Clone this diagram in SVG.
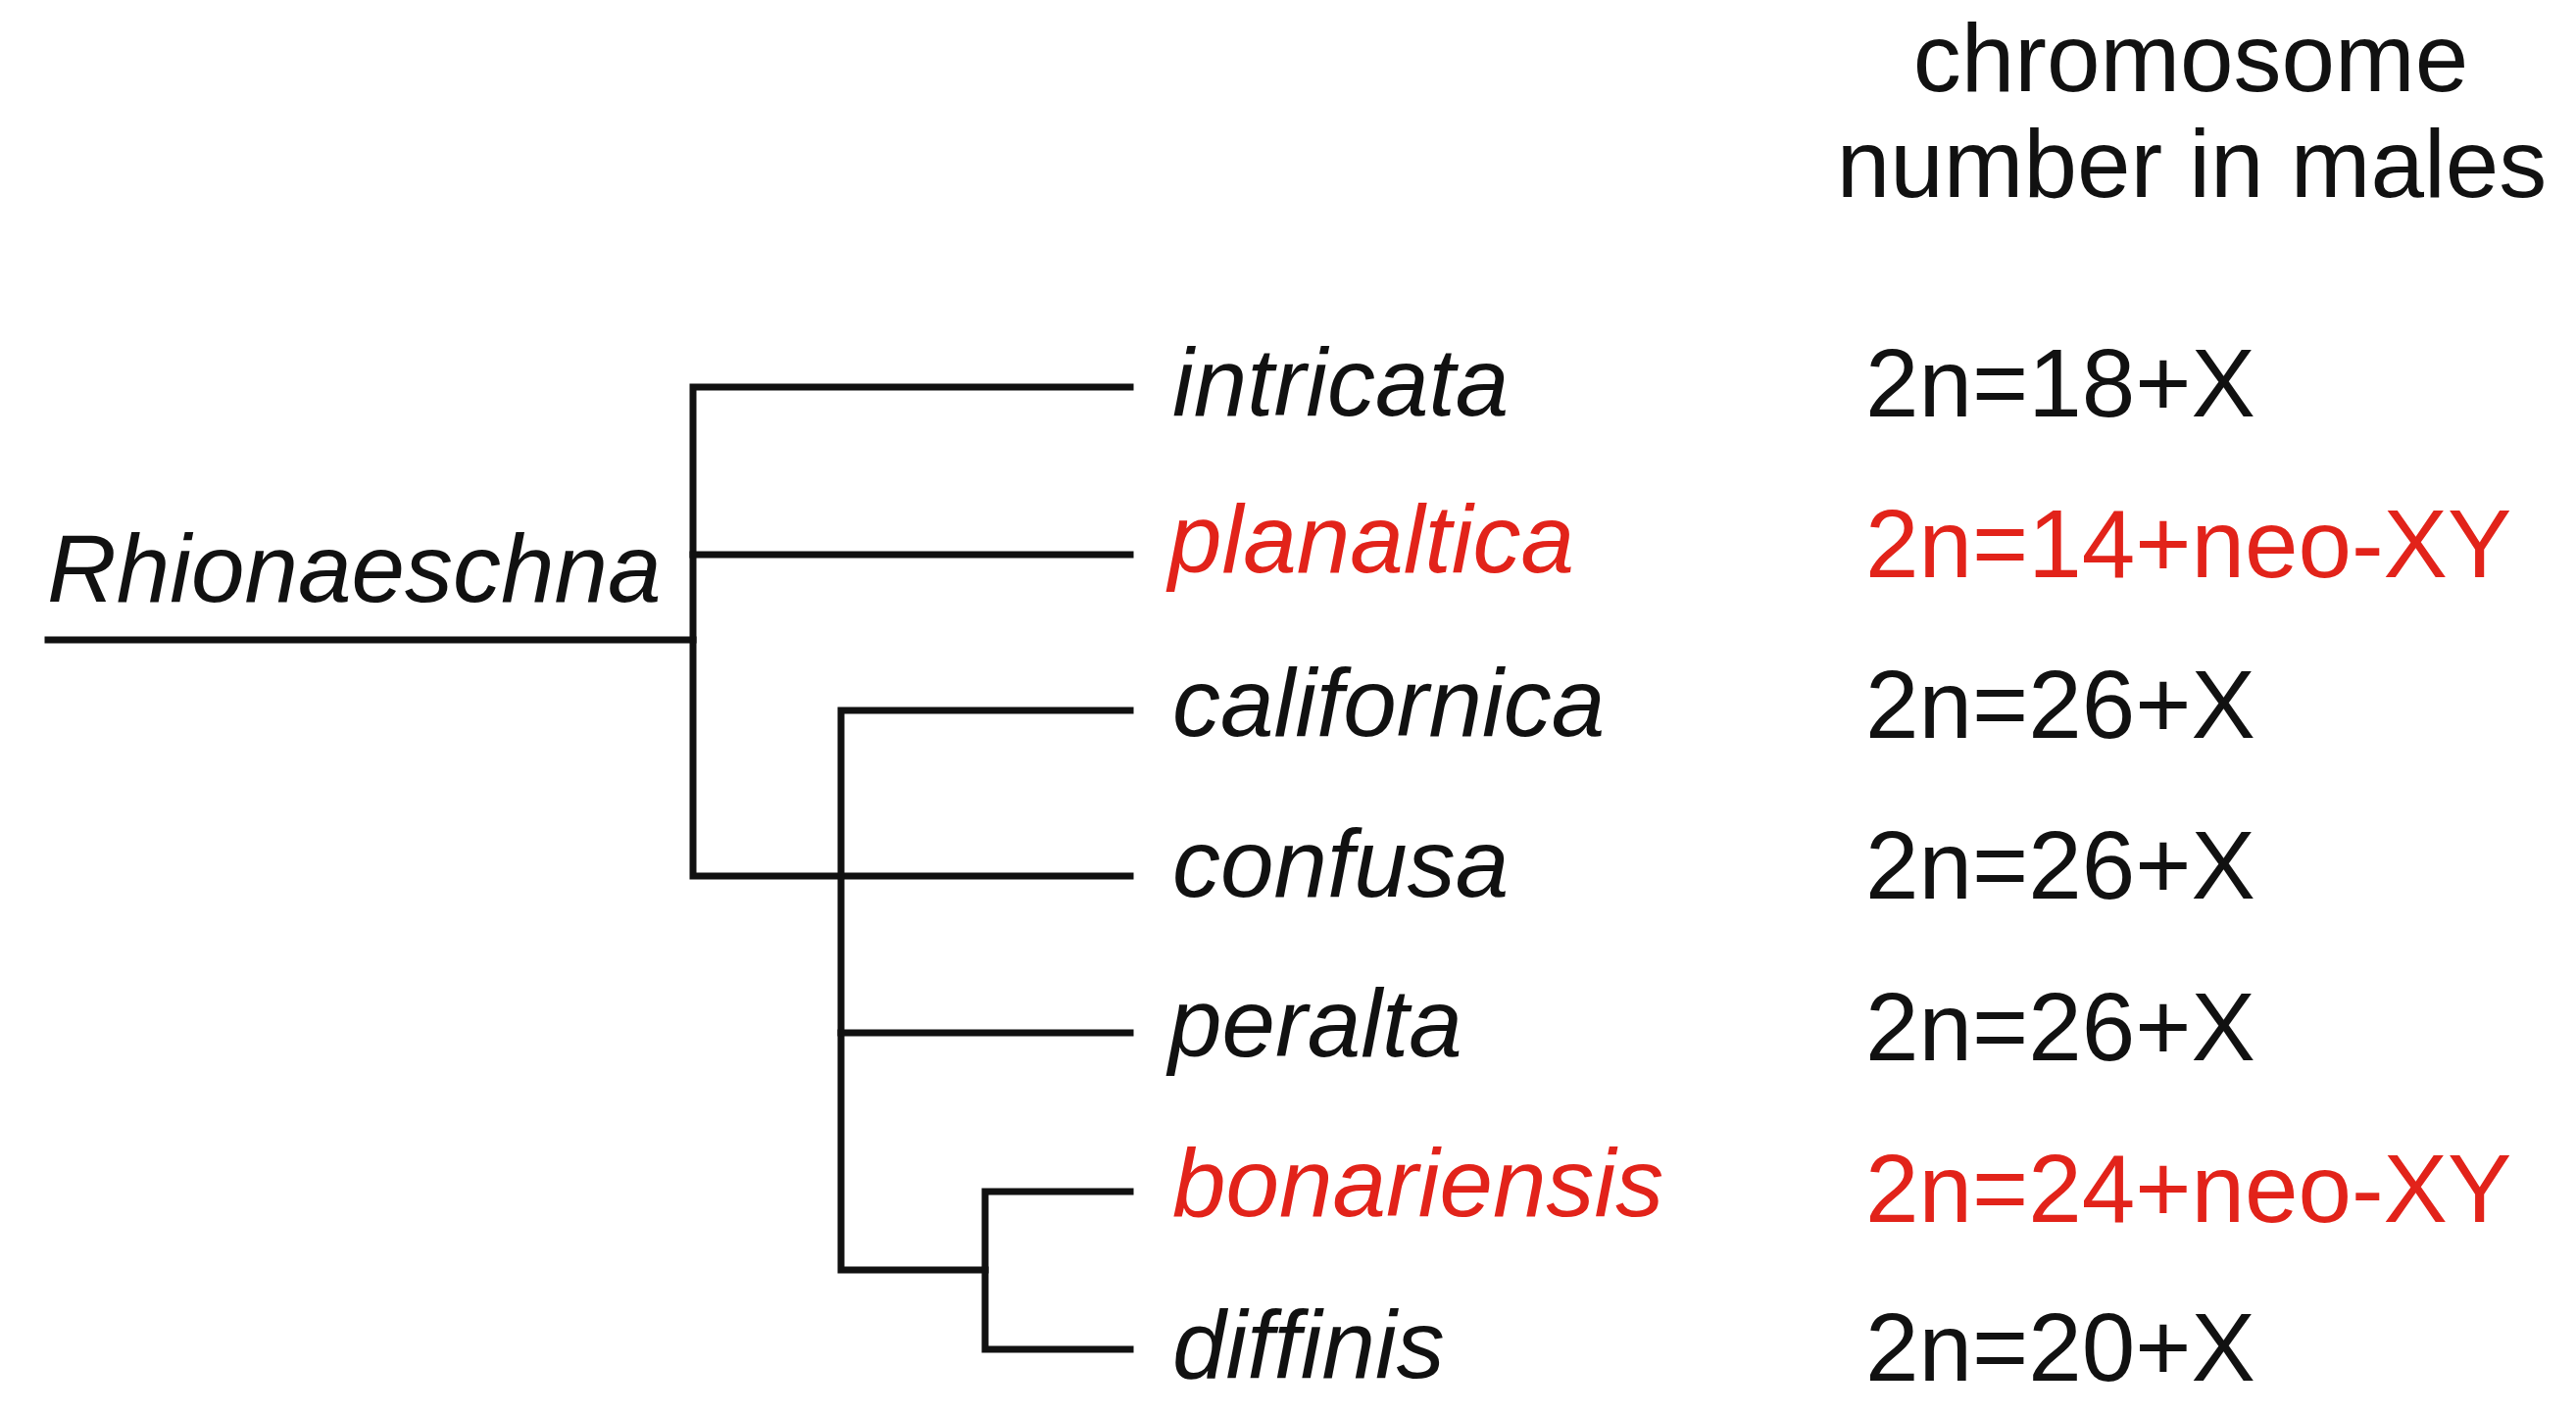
<svg xmlns="http://www.w3.org/2000/svg" width="2628" height="1443" viewBox="0 0 2628 1443">
<style>
.t{font-family:"Liberation Sans",Arial,sans-serif;font-size:98px;fill:#111}
.sp{font-style:italic}
.red{fill:#e2231a}
.br{stroke:#111;stroke-width:7;fill:none;stroke-linecap:square;stroke-linejoin:miter}
</style>
<rect width="2628" height="1443" fill="#fff"/>
<g id="connectors">
<path class="br" d="M49 653H707"/>
<path class="br" d="M1153 395H707V894H1153"/>
<path class="br" d="M707 566H1153"/>
<path class="br" d="M1153 725H858V1296H1005"/>
<path class="br" d="M858 1054H1153"/>
<path class="br" d="M1153 1216H1005V1377H1153"/>
</g>
<g id="header">
<text class="t" x="2235" y="93" text-anchor="middle">chromosome</text>
<text class="t" x="2236" y="201" text-anchor="middle">number in males</text>
</g>
<g id="root"><text class="t sp" x="48" y="614">Rhionaeschna</text></g>
<g id="intricata"><text class="t sp" x="1196" y="424">intricata</text><text class="t" x="1903" y="425">2n=18+X</text></g>
<g id="planaltica"><text class="t sp red" x="1192" y="584">planaltica</text><text class="t red" x="1903" y="589">2n=14+neo-XY</text></g>
<g id="californica"><text class="t sp" x="1196" y="751">californica</text><text class="t" x="1903" y="753">2n=26+X</text></g>
<g id="confusa"><text class="t sp" x="1196" y="915">confusa</text><text class="t" x="1903" y="917">2n=26+X</text></g>
<g id="peralta"><text class="t sp" x="1192" y="1078">peralta</text><text class="t" x="1903" y="1082">2n=26+X</text></g>
<g id="bonariensis"><text class="t sp red" x="1196" y="1241">bonariensis</text><text class="t red" x="1903" y="1247">2n=24+neo-XY</text></g>
<g id="diffinis"><text class="t sp" x="1196" y="1406">diffinis</text><text class="t" x="1903" y="1409">2n=20+X</text></g>
</svg>
